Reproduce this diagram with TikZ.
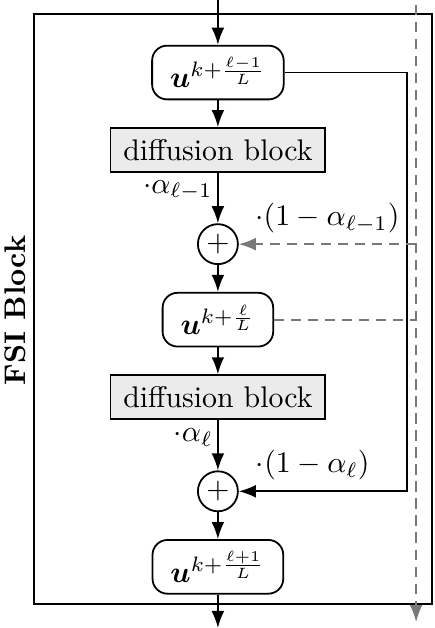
\documentclass[tikz,border=0pt]{standalone}
\usepackage{amsmath}
\usetikzlibrary{positioning}
\usetikzlibrary{arrows.meta}
\usetikzlibrary{calc}
\definecolor{figGris}{RGB}{235,235,235}
\definecolor{figGrisBorde}{RGB}{120,120,120}
\tikzset{
  estado/.style={
    rectangle, rounded corners=5pt, draw=black, line width=0.6pt,
    minimum height=18pt, inner xsep=6pt, align=center
  },
  difusion/.style={
    rectangle, draw=black, line width=0.6pt, fill=figGris,
    minimum height=14.8pt, minimum width=72pt, inner sep=2pt
  },
  suma/.style={
    circle, draw=black, line width=0.6pt, minimum size=13.4pt, inner sep=0pt
  },
  flecha/.style={-Latex, line width=0.6pt},
  flechag/.style={-Latex, line width=0.6pt, draw=figGrisBorde, dash pattern=on 3.4pt off 2.3pt},
  lineag/.style={line width=0.6pt, draw=figGrisBorde, dash pattern=on 3.4pt off 2.3pt},
  marco/.style={line width=0.6pt, draw=black}
}
\begin{document}
\begin{tikzpicture}[node distance=9pt]
  \useasboundingbox (0,0) rectangle (145.4pt,-210.4pt);
  % outer block
  \draw[marco] (11.4pt,-4.7pt) rectangle (144.7pt,-202.3pt);
  \node[rotate=90, font=\bfseries] (fsi) at (5pt,-104pt) {FSI Block};

  % main column
  \node[estado] (u1) at (73pt,-24.3pt) {$\boldsymbol{u}^{k+\frac{\ell-1}{L}}$};
  \node[difusion, below=of u1] (d1) {diffusion block};
  \node[suma, below=16.8pt of d1] (s1) {$+$};
  \node[estado, below=of s1] (u2) {$\boldsymbol{u}^{k+\frac{\ell}{L}}$};
  \node[difusion, below=of u2] (d2) {diffusion block};
  \node[suma, below=16.8pt of d2] (s2) {$+$};
  \node[estado, below=of s2] (u3) {$\boldsymbol{u}^{k+\frac{\ell+1}{L}}$};

  \coordinate (entrada) at (73pt,0pt);
  \coordinate (salida) at (73pt,-210.4pt);
  \coordinate (cs) at (136.3pt,0pt);
  \coordinate (dtop) at (139.4pt,-1.7pt);
  \coordinate (dbot) at (139.4pt,-208.4pt);

  \draw[flecha] (entrada) -- (u1);
  \draw[flecha] (u1) -- (d1);
  \draw[flecha] (d1) -- node[left, pos=0.34, inner sep=1.5pt] {$\cdot\alpha_{\ell-1}$} (s1);
  \draw[flecha] (s1) -- (u2);
  \draw[flecha] (u2) -- (d2);
  \draw[flecha] (d2) -- node[left, pos=0.34, inner sep=1.5pt] {$\cdot\alpha_{\ell}$} (s2);
  \draw[flecha] (s2) -- (u3);
  \draw[flecha] (u3) -- (salida);

  % skip connection
  \draw[flecha] (u1.east) -- (u1.east -| cs) -- (s2.east -| cs)
    -- node[above, pos=0.56] {$\cdot(1-\alpha_{\ell})$} (s2.east);

  % dashed path
  \draw[flechag] (dtop) -- (dbot);
  \draw[flechag] (s1.east -| dtop) -- node[above] {$\cdot(1-\alpha_{\ell-1})$} (s1.east);
  \draw[lineag] (u2.east) -- (u2.east -| dtop);
\end{tikzpicture}
\end{document}
